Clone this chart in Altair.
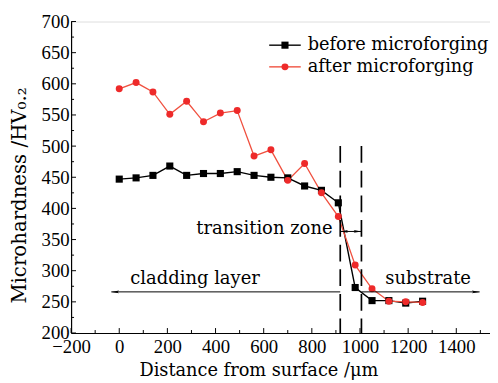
import altair as alt
import pandas as pd

# ---- data ----
distance = [0, 70, 140, 210, 280, 350, 420, 490, 560, 630, 700, 770, 840,
            910, 980, 1050, 1120, 1190, 1260]
before = [447, 449, 453, 468, 453, 456, 456, 459, 453, 450, 449, 436, 429,
          409, 273, 252, 252, 248, 251]
after = [592, 602, 587, 551, 572, 539, 553, 557, 484, 494, 445, 472, 425,
         387, 309, 271, 251, 250, 249]
series_names = ["before microforging", "after microforging"]
series_colors = ["#000000", "#ee2a2a"]
line_colors = ["#000000", "#f0503f"]

zone_bounds = [918, 1006]
zone_top = 500
x_ticks = [-200, 0, 200, 400, 600, 800, 1000, 1200, 1400]
x_minor = list(range(-100, 1540, 200))
y_ticks = list(range(200, 701, 50))
y_minor = list(range(225, 700, 50))

annot_labels = ["transition zone", "cladding layer", "substrate"]
annot_x = [886, 315, 1283]
annot_y = [367, 286, 286]
annot_align = ["right", "center", "center"]

arrow_y = [363, 266, 266]
arrow_x1 = [918, -33, 1006]
arrow_x2 = [1006, 918, 1497]

FONT = "DejaVu Serif"
NUMFONT = "Liberation Serif"
W, H = 425, 316
xs = alt.Scale(domain=[-200, 1540], nice=False, zero=False)
ys = alt.Scale(domain=[200, 700], nice=False, zero=False)

XAXIS = alt.Axis(
    title="Distance from surface /μm", values=x_ticks, ticks=False, format="d",
    domain=True, domainColor="black", domainWidth=1.2, grid=False,
    labelFont=NUMFONT, labelFontSize=19, labelColor="black", labelPadding=5,
    titleFont=FONT, titleFontSize=18, titleFontWeight="normal", titleColor="black",
    titleX=190, titleY=43, titleBaseline="alphabetic",
    labelFlush=False, labelOverlap=False)
YAXIS = alt.Axis(
    title="Microhardness /HV₀.₂", values=y_ticks, ticks=False, format="d",
    domain=True, domainColor="black", domainWidth=1.2, grid=False,
    labelFont=NUMFONT, labelFontSize=19, labelColor="black", labelPadding=2,
    titleFont=FONT, titleFontSize=20, titleFontWeight="normal", titleColor="black",
    titleX=-42, titleY=176, titleBaseline="bottom",
    labelFlush=False, labelOverlap=False)

df = pd.DataFrame({
    "d": distance * 2,
    "hv": before + after,
    "s": [series_names[0]] * len(distance) + [series_names[1]] * len(distance),
})
df_b = df[df.s == series_names[0]]
df_a = df[df.s == series_names[1]]


def xq(field):
    return alt.X(field, scale=xs, axis=XAXIS)


def yq(field):
    return alt.Y(field, scale=ys, axis=YAXIS)


base_line_b = alt.Chart(df_b).mark_line(color=line_colors[0], strokeWidth=1.4).encode(
    x=xq("d:Q"), y=yq("hv:Q"))
pts_b = alt.Chart(df_b).mark_point(shape="square", filled=True, color=series_colors[0],
                                   size=52, opacity=1).encode(x=xq("d:Q"), y=yq("hv:Q"))
base_line_a = alt.Chart(df_a).mark_line(color=line_colors[1], strokeWidth=1.3).encode(
    x=xq("d:Q"), y=yq("hv:Q"))
pts_a = alt.Chart(df_a).mark_point(shape="circle", filled=True, color=series_colors[1],
                                   size=50, opacity=1).encode(x=xq("d:Q"), y=yq("hv:Q"))

# inner ticks
xt = pd.DataFrame({"d": x_ticks})
xm = pd.DataFrame({"d": x_minor})
yt = pd.DataFrame({"hv": y_ticks})
ym = pd.DataFrame({"hv": y_minor})
xtick_major = alt.Chart(xt).mark_rule(color="black", strokeWidth=1).encode(
    x=xq("d:Q"), y=alt.value(H), y2=alt.value(H - 5))
xtick_minor = alt.Chart(xm).mark_rule(color="black", strokeWidth=1).encode(
    x=xq("d:Q"), y=alt.value(H), y2=alt.value(H - 3))
ytick_major = alt.Chart(yt).mark_rule(color="black", strokeWidth=1).encode(
    y=yq("hv:Q"), x=alt.value(0), x2=alt.value(5))
ytick_minor = alt.Chart(ym).mark_rule(color="black", strokeWidth=1).encode(
    y=yq("hv:Q"), x=alt.value(0), x2=alt.value(3))

# dashed zone boundaries
zb = pd.DataFrame({"d": zone_bounds, "hv": [zone_top] * 2, "hv2": [200] * 2})
dashed = alt.Chart(zb).mark_rule(color="black", strokeWidth=1.7, strokeDash=[17, 8]).encode(
    x=xq("d:Q"), y=yq("hv:Q"), y2="hv2:Q")

# arrows
ar = pd.DataFrame({"d": arrow_x1, "d2": arrow_x2, "hv": arrow_y})
arrow_lines = alt.Chart(ar).mark_rule(color="black", strokeWidth=1).encode(
    x=xq("d:Q"), x2="d2:Q", y=yq("hv:Q"))
heads = pd.DataFrame({
    "d": [arrow_x1[0], arrow_x2[0], arrow_x1[1], arrow_x2[2]],
    "hv": [arrow_y[0], arrow_y[0], arrow_y[1], arrow_y[2]],
    "dir": ["L", "R", "L", "R"],
})
left_path = "M-1,0L1,-0.35L0.6,0L1,0.35Z"
right_path = "M1,0L-1,-0.35L-0.6,0L-1,0.35Z"
head_l = alt.Chart(heads[heads.dir == "L"]).mark_point(
    shape=left_path, filled=True, color="black", size=60, opacity=1).encode(
    x=xq("d:Q"), y=yq("hv:Q"), xOffset=alt.value(4))
head_r = alt.Chart(heads[heads.dir == "R"]).mark_point(
    shape=right_path, filled=True, color="black", size=60, opacity=1).encode(
    x=xq("d:Q"), y=yq("hv:Q"), xOffset=alt.value(-4))

ann = pd.DataFrame({"t": annot_labels, "d": annot_x, "hv": annot_y, "a": annot_align})
ann_r = alt.Chart(ann[ann.a == "right"]).mark_text(
    font=FONT, fontSize=18.2, align="right", baseline="middle", color="black").encode(
    x=xq("d:Q"), y=yq("hv:Q"), text="t:N")
ann_c = alt.Chart(ann[ann.a == "center"]).mark_text(
    font=FONT, fontSize=18.2, align="center", baseline="middle", color="black").encode(
    x=xq("d:Q"), y=yq("hv:Q"), text="t:N")

# legend (manual)
leg_y = [24, 46]
legend_layers = []
for i, name in enumerate(series_names):
    d1 = pd.DataFrame({"t": [name]})
    legend_layers.append(alt.Chart(d1).mark_rule(color=line_colors[i], strokeWidth=1.4).encode(
        x=alt.value(201), x2=alt.value(233), y=alt.value(leg_y[i])))
    legend_layers.append(alt.Chart(d1).mark_point(
        shape="square" if i == 0 else "circle", filled=True, color=series_colors[i],
        size=52 if i == 0 else 50, opacity=1).encode(x=alt.value(217), y=alt.value(leg_y[i])))
    legend_layers.append(alt.Chart(d1).mark_text(
        font=FONT, fontSize=18, align="left", baseline="middle", color="black").encode(
        x=alt.value(240), y=alt.value(leg_y[i]), text="t:N"))

chart = alt.layer(
    base_line_b, base_line_a, pts_b, pts_a,
    xtick_major, xtick_minor, ytick_major, ytick_minor,
    dashed, arrow_lines, head_l, head_r, ann_r, ann_c,
    *legend_layers,
).properties(
    width=W, height=H,
    autosize=alt.AutoSizeParams(type="none"),
    padding={"left": 64, "top": 11, "right": 0, "bottom": 47},
).configure_view(stroke="black", strokeWidth=1.2).configure(background="white")

chart.save("out.html", embed_options={"renderer": "svg", "actions": False})
